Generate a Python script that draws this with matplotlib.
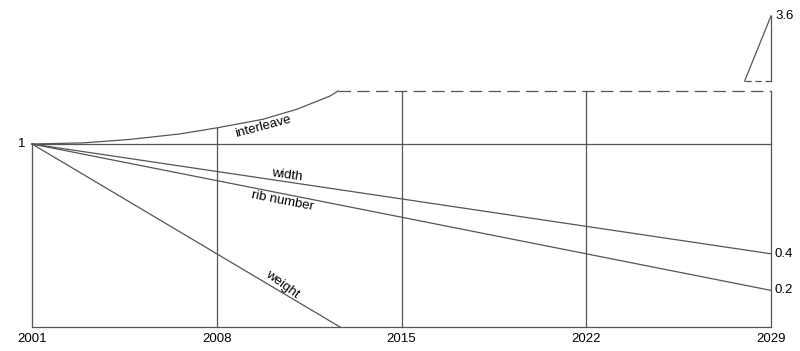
import matplotlib
matplotlib.use("Agg")
import matplotlib.pyplot as plt
import numpy as np

plt.rcParams['font.family'] = ['Liberation Sans', 'DejaVu Sans']

# Data
years = [2001, 2008, 2015, 2022, 2029]
year_labels = ['2001', '2008', '2015', '2022', '2029']
width_years = [2001, 2029]
width_vals = [1.0, 0.4]
rib_years = [2001, 2029]
rib_vals = [1.0, 0.2]
weight_years = [2001, 2012.67]
weight_vals = [1.0, 0.0]
interleave_years = [2001, 2002.93, 2004.71, 2006.6, 2008.0, 2009.75, 2011.04, 2012.29, 2012.6]
interleave_vals = [1.0, 1.006, 1.025, 1.055, 1.088, 1.135, 1.19, 1.262, 1.29]
interleave_cap_years = [2012.6, 2029]
interleave_cap_vals = [1.29, 1.29]
marker_years = [2028, 2029]
marker_vals = [1.344, 1.70]
marker_label = '3.6'
reference_val = 1.0

LC = '#555555'
LW = 0.9
FS = 9.5

fig = plt.figure(figsize=(8, 3.51), dpi=100)
ax = fig.add_axes([32/800, 24/351, 739/800, 327/351])
ax.set_xlim(2001, 2029)
ax.set_ylim(0, 327/183)

# reference line at 1
ax.plot([years[0], years[-1]], [reference_val, reference_val], color=LC, lw=LW, clip_on=False)

# verticals up to the interleave envelope
def env(y):
    if y <= interleave_cap_years[0]:
        return float(np.interp(y, interleave_years, interleave_vals))
    return interleave_cap_vals[0]
for i, y in enumerate(years):
    top = reference_val if i == 0 else env(y)
    ax.plot([y, y], [0, top], color=LC, lw=LW, clip_on=False)

ax.plot(interleave_years, interleave_vals, color=LC, lw=LW, clip_on=False)
ax.plot(interleave_cap_years, interleave_cap_vals, color=LC, lw=LW, ls=(0, (10, 5)), clip_on=False)
ax.plot(width_years, width_vals, color=LC, lw=LW, clip_on=False)
ax.plot(rib_years, rib_vals, color=LC, lw=LW, clip_on=False)
ax.plot(weight_years, weight_vals, color=LC, lw=LW, clip_on=False)

# marker triangle for off-scale value
ax.plot(marker_years, marker_vals, color=LC, lw=LW, clip_on=False)
ax.plot([marker_years[1], marker_years[1]], [marker_vals[0], marker_vals[1]], color=LC, lw=LW, clip_on=False)
ax.plot(marker_years, [marker_vals[0], marker_vals[0]], color=LC, lw=LW, ls=(0, (5, 3)), clip_on=False)
ax.text(marker_years[1] + 0.15, marker_vals[1], marker_label, fontsize=FS, ha='left', va='center')

# axis labels
ax.set_xticks(years)
ax.set_xticklabels(year_labels, fontsize=FS)
ax.tick_params(axis='x', length=0, pad=4)
ax.set_yticks([])
for s in ['top', 'right', 'left']:
    ax.spines[s].set_visible(False)
ax.spines['bottom'].set_color(LC)
ax.spines['bottom'].set_linewidth(LW)

ax.text(2001 - 0.25, reference_val, '1', fontsize=FS, ha='right', va='center')
ax.text(2029 + 0.15, width_vals[1], '0.4', fontsize=FS, ha='left', va='center')
ax.text(2029 + 0.15, rib_vals[1], '0.2', fontsize=FS, ha='left', va='center')

# series labels
ax.text(2009.75, 1.093, 'interleave', fontsize=FS, rotation=15, ha='center', va='center')
ax.text(2010.66, 0.83, 'width', fontsize=FS, rotation=-8, ha='center', va='center')
ax.text(2010.5, 0.69, 'rib number', fontsize=FS, rotation=-11, ha='center', va='center')
ax.text(2010.47, 0.235, 'weight', fontsize=FS, rotation=-36, ha='center', va='center')

fig.savefig('out.png', dpi=100)
